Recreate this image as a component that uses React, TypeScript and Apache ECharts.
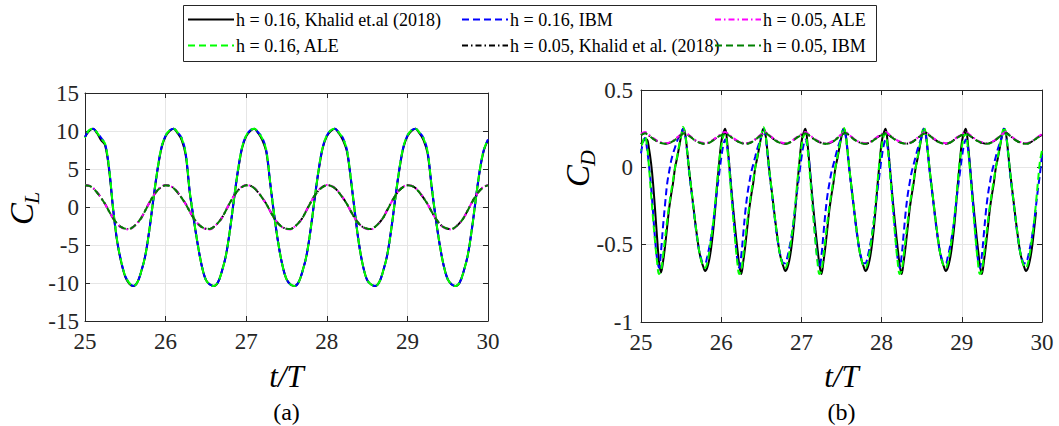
import React, { useEffect, useRef } from "react";
import * as echarts from "echarts";

// ---------- sampling grids (t/T) ----------
const T_CL: number[] = Array.from({ length: 101 }, (_, i) => Math.round((25 + i * 0.05) * 1000) / 1000);
const T_CD16: number[] = Array.from({ length: 201 }, (_, i) => Math.round((25 + i * 0.025) * 1000) / 1000);
const T_CD05: number[] = Array.from({ length: 101 }, (_, i) => Math.round((25 + i * 0.05) * 1000) / 1000);

const X_TICKS = [25, 26, 27, 28, 29, 30];
const CL_TICKS = [-15, -10, -5, 0, 5, 10, 15];
const CD_TICKS = [-1, -0.5, 0, 0.5];

// ---------- C_L values (t = 25.00 ... 30.00, step 0.05) ----------
const CL_KH16 = [
  9.2, 10.0, 10.3, 9.7, 8.8, 8.1, 4.8, -0.4, -4.6, -7.3, -9.2, -10.1, -10.4, -9.9, -8.4, -6.3, -2.9, 1.1, 4.9, 7.8,
  9.3, 10.0, 10.3, 9.7, 8.8, 6.8, 1.9, -1.7, -5.0, -7.8, -9.6, -10.2, -10.4, -9.9, -8.4, -6.3, -2.9, 1.1, 4.9, 7.8,
  9.3, 10.0, 10.3, 9.7, 8.8, 7.2, 2.9, -1.3, -4.9, -7.7, -9.5, -10.2, -10.4, -9.9, -8.4, -6.3, -2.9, 1.1, 4.9, 7.8,
  9.3, 10.0, 10.3, 9.7, 8.8, 7.3, 3.5, -0.9, -4.9, -7.8, -9.6, -10.2, -10.4, -9.9, -8.4, -6.3, -2.9, 1.1, 4.9, 7.8,
  9.3, 10.0, 10.3, 9.7, 8.8, 7.1, 2.7, -1.4, -4.9, -7.7, -9.5, -10.2, -10.4, -9.9, -8.4, -6.3, -2.9, 1.1, 4.9, 7.5,
  8.8,
];
const CL_ALE16 = [
  9.1, 10.1, 10.3, 9.8, 9.0, 8.3, 5.0, -0.3, -4.5, -7.2, -9.1, -10.0, -10.4, -9.9, -8.4, -6.3, -2.9, 1.2, 5.0, 7.9,
  9.4, 10.1, 10.3, 9.8, 9.0, 7.0, 2.0, -1.6, -5.0, -7.8, -9.6, -10.2, -10.4, -9.9, -8.4, -6.3, -2.9, 1.2, 5.0, 7.9,
  9.4, 10.1, 10.3, 9.8, 9.0, 7.4, 3.0, -1.2, -4.9, -7.7, -9.5, -10.2, -10.4, -9.9, -8.4, -6.3, -2.9, 1.2, 5.0, 7.9,
  9.4, 10.1, 10.3, 9.8, 9.0, 7.5, 3.6, -0.8, -4.9, -7.8, -9.6, -10.2, -10.4, -9.9, -8.4, -6.3, -2.9, 1.2, 5.0, 7.9,
  9.4, 10.1, 10.3, 9.8, 9.0, 7.3, 2.8, -1.3, -4.9, -7.7, -9.5, -10.2, -10.4, -9.9, -8.4, -6.3, -2.9, 1.2, 5.0, 7.6,
  8.9,
];
const CL_IBM16 = [
  9.2, 10.1, 10.3, 9.8, 9.1, 8.3, 5.0, -0.3, -4.5, -7.2, -9.1, -10.0, -10.4, -9.9, -8.4, -6.3, -2.9, 1.2, 5.0, 7.9,
  9.4, 10.1, 10.3, 9.8, 9.1, 7.0, 2.0, -1.6, -5.0, -7.8, -9.6, -10.2, -10.4, -9.9, -8.4, -6.3, -2.9, 1.2, 5.0, 7.9,
  9.4, 10.1, 10.3, 9.8, 9.1, 7.4, 3.0, -1.2, -4.9, -7.7, -9.5, -10.2, -10.4, -9.9, -8.4, -6.3, -2.9, 1.2, 5.0, 7.9,
  9.4, 10.1, 10.3, 9.8, 9.1, 7.5, 3.6, -0.8, -4.9, -7.8, -9.6, -10.2, -10.4, -9.9, -8.4, -6.3, -2.9, 1.2, 5.0, 7.9,
  9.4, 10.1, 10.3, 9.8, 9.1, 7.3, 2.8, -1.3, -4.9, -7.7, -9.5, -10.2, -10.4, -9.9, -8.4, -6.3, -2.9, 1.2, 5.0, 7.6,
  8.9,
];
const CL_KH05 = [
  2.85, 2.8, 2.5, 1.9, 1.2, 0.4, -0.6, -1.5, -2.2, -2.65, -2.85, -2.9, -2.6, -2.1, -1.4, -0.4, 0.6, 1.5, 2.2, 2.65,
  2.85, 2.8, 2.5, 1.9, 1.2, 0.4, -0.6, -1.5, -2.2, -2.65, -2.85, -2.9, -2.6, -2.1, -1.4, -0.4, 0.6, 1.5, 2.2, 2.65,
  2.85, 2.8, 2.5, 1.9, 1.2, 0.4, -0.6, -1.5, -2.2, -2.65, -2.85, -2.9, -2.6, -2.1, -1.4, -0.4, 0.6, 1.5, 2.2, 2.65,
  2.85, 2.8, 2.5, 1.9, 1.2, 0.4, -0.6, -1.5, -2.2, -2.65, -2.85, -2.9, -2.6, -2.1, -1.4, -0.4, 0.6, 1.5, 2.2, 2.65,
  2.85, 2.8, 2.5, 1.9, 1.2, 0.4, -0.6, -1.5, -2.2, -2.65, -2.85, -2.9, -2.6, -2.1, -1.4, -0.4, 0.6, 1.5, 2.2, 2.65,
  2.85,
];
const CL_ALE05 = [
  2.9, 2.8, 2.5, 1.95, 1.2, 0.35, -0.6, -1.5, -2.2, -2.7, -2.9, -2.95, -2.6, -2.1, -1.4, -0.4, 0.6, 1.5, 2.25, 2.7,
  2.9, 2.8, 2.5, 1.95, 1.2, 0.35, -0.6, -1.5, -2.2, -2.7, -2.9, -2.95, -2.6, -2.1, -1.4, -0.4, 0.6, 1.5, 2.25, 2.7,
  2.9, 2.8, 2.5, 1.95, 1.2, 0.35, -0.6, -1.5, -2.2, -2.7, -2.9, -2.95, -2.6, -2.1, -1.4, -0.4, 0.6, 1.5, 2.25, 2.7,
  2.9, 2.8, 2.5, 1.95, 1.2, 0.35, -0.6, -1.5, -2.2, -2.7, -2.9, -2.95, -2.6, -2.1, -1.4, -0.4, 0.6, 1.5, 2.25, 2.7,
  2.9, 2.8, 2.5, 1.95, 1.2, 0.35, -0.6, -1.5, -2.2, -2.7, -2.9, -2.95, -2.6, -2.1, -1.4, -0.4, 0.6, 1.5, 2.25, 2.7,
  2.9,
];
const CL_IBM05 = [
  2.85, 2.78, 2.48, 1.9, 1.18, 0.38, -0.6, -1.5, -2.2, -2.65, -2.85, -2.88, -2.6, -2.1, -1.4, -0.42, 0.58, 1.5, 2.2, 2.65,
  2.85, 2.78, 2.48, 1.9, 1.18, 0.38, -0.6, -1.5, -2.2, -2.65, -2.85, -2.88, -2.6, -2.1, -1.4, -0.42, 0.58, 1.5, 2.2, 2.65,
  2.85, 2.78, 2.48, 1.9, 1.18, 0.38, -0.6, -1.5, -2.2, -2.65, -2.85, -2.88, -2.6, -2.1, -1.4, -0.42, 0.58, 1.5, 2.2, 2.65,
  2.85, 2.78, 2.48, 1.9, 1.18, 0.38, -0.6, -1.5, -2.2, -2.65, -2.85, -2.88, -2.6, -2.1, -1.4, -0.42, 0.58, 1.5, 2.2, 2.65,
  2.85, 2.78, 2.48, 1.9, 1.18, 0.38, -0.6, -1.5, -2.2, -2.65, -2.85, -2.88, -2.6, -2.1, -1.4, -0.42, 0.58, 1.5, 2.2, 2.65,
  2.85,
];

// ---------- C_D values, h = 0.16 (t = 25.000 ... 30.000, step 0.025) ----------
const CD_KH16: (number | null)[] = [
  0.15, 0.17, 0.18, 0.18, 0.12, 0.03, -0.10, -0.27, -0.45, -0.61, -0.68, -0.61, -0.51, -0.39, -0.27, -0.18, -0.10, 0.00, 0.06, 0.13,
  0.20, 0.25, 0.22, 0.11, -0.02, -0.13, -0.24, -0.35, -0.45, -0.54, -0.60, -0.64, -0.67, -0.65, -0.60, -0.52, -0.41, -0.27, -0.11, 0.03,
  0.16, 0.22, 0.25, 0.16, 0.02, -0.13, -0.27, -0.40, -0.52, -0.63, -0.69, -0.61, -0.51, -0.39, -0.27, -0.18, -0.10, 0.00, 0.06, 0.13,
  0.20, 0.25, 0.22, 0.11, -0.02, -0.13, -0.24, -0.35, -0.45, -0.54, -0.60, -0.64, -0.67, -0.65, -0.60, -0.52, -0.41, -0.27, -0.11, 0.03,
  0.16, 0.22, 0.25, 0.16, 0.02, -0.13, -0.27, -0.40, -0.52, -0.63, -0.69, -0.61, -0.51, -0.39, -0.27, -0.18, -0.10, 0.00, 0.06, 0.13,
  0.20, 0.25, 0.22, 0.11, -0.02, -0.13, -0.24, -0.35, -0.45, -0.54, -0.60, -0.64, -0.67, -0.65, -0.60, -0.52, -0.41, -0.27, -0.11, 0.03,
  0.16, 0.22, 0.25, 0.16, 0.02, -0.13, -0.27, -0.40, -0.52, -0.63, -0.69, -0.61, -0.51, -0.39, -0.27, -0.18, -0.10, 0.00, 0.06, 0.13,
  0.20, 0.25, 0.22, 0.11, -0.02, -0.13, -0.24, -0.35, -0.45, -0.54, -0.60, -0.64, -0.67, -0.65, -0.60, -0.52, -0.41, -0.27, -0.11, 0.03,
  0.16, 0.22, 0.25, 0.16, 0.02, -0.13, -0.27, -0.40, -0.52, -0.63, -0.69, -0.61, -0.51, -0.39, -0.27, -0.18, -0.10, 0.00, 0.06, 0.13,
  0.20, 0.25, 0.22, 0.11, -0.02, -0.13, -0.24, -0.35, -0.45, -0.54, -0.60, -0.64, -0.67, -0.65, -0.60, -0.52, -0.41, -0.29, null, null,
  null,
];
const CD_ALE16: (number | null)[] = [
  0.11, 0.17, 0.20, 0.14, 0.00, -0.17, -0.33, -0.48, -0.61, -0.69, -0.67, -0.57, -0.46, -0.35, -0.25, -0.16, -0.08, 0.00, 0.07, 0.14,
  0.20, 0.26, 0.22, 0.11, -0.02, -0.13, -0.24, -0.35, -0.45, -0.54, -0.60, -0.64, -0.65, -0.62, -0.55, -0.46, -0.36, -0.23, -0.09, 0.04,
  0.13, 0.20, 0.22, 0.13, -0.01, -0.17, -0.33, -0.48, -0.61, -0.69, -0.67, -0.57, -0.46, -0.35, -0.25, -0.16, -0.08, 0.00, 0.07, 0.14,
  0.20, 0.26, 0.22, 0.11, -0.02, -0.13, -0.24, -0.35, -0.45, -0.54, -0.60, -0.64, -0.65, -0.62, -0.55, -0.46, -0.36, -0.23, -0.09, 0.04,
  0.13, 0.20, 0.22, 0.13, -0.01, -0.17, -0.33, -0.48, -0.61, -0.69, -0.67, -0.57, -0.46, -0.35, -0.25, -0.16, -0.08, 0.00, 0.07, 0.14,
  0.20, 0.26, 0.22, 0.11, -0.02, -0.13, -0.24, -0.35, -0.45, -0.54, -0.60, -0.64, -0.65, -0.62, -0.55, -0.46, -0.36, -0.23, -0.09, 0.04,
  0.13, 0.20, 0.22, 0.13, -0.01, -0.17, -0.33, -0.48, -0.61, -0.69, -0.67, -0.57, -0.46, -0.35, -0.25, -0.16, -0.08, 0.00, 0.07, 0.14,
  0.20, 0.26, 0.22, 0.11, -0.02, -0.13, -0.24, -0.35, -0.45, -0.54, -0.60, -0.64, -0.65, -0.62, -0.55, -0.46, -0.36, -0.23, -0.09, 0.04,
  0.13, 0.20, 0.22, 0.13, -0.01, -0.17, -0.33, -0.48, -0.61, -0.69, -0.67, -0.57, -0.46, -0.35, -0.25, -0.16, -0.08, 0.00, 0.07, 0.14,
  0.20, 0.26, 0.22, 0.11, -0.02, -0.13, -0.24, -0.35, -0.45, -0.54, -0.60, -0.64, -0.65, -0.62, -0.55, -0.46, -0.36, -0.23, -0.09, 0.04,
  0.11,
];
const CD_IBM16: (number | null)[] = [
  0.09, 0.16, 0.19, 0.12, 0.01, -0.12, -0.29, -0.46, -0.59, -0.65, -0.54, -0.38, -0.24, -0.11, -0.03, 0.04, 0.09, 0.13, 0.17, 0.20,
  0.22, 0.25, 0.21, 0.10, -0.03, -0.14, -0.25, -0.36, -0.46, -0.54, -0.59, -0.62, -0.62, -0.58, -0.52, -0.45, -0.36, -0.25, -0.14, -0.04,
  0.06, 0.14, 0.18, 0.13, 0.02, -0.14, -0.30, -0.46, -0.59, -0.65, -0.57, -0.43, -0.29, -0.18, -0.10, -0.03, 0.02, 0.07, 0.12, 0.16,
  0.20, 0.25, 0.21, 0.10, -0.03, -0.14, -0.25, -0.36, -0.46, -0.54, -0.59, -0.62, -0.62, -0.58, -0.52, -0.45, -0.36, -0.25, -0.14, -0.04,
  0.06, 0.14, 0.18, 0.13, 0.02, -0.14, -0.30, -0.46, -0.59, -0.65, -0.57, -0.43, -0.29, -0.18, -0.10, -0.03, 0.02, 0.07, 0.12, 0.16,
  0.20, 0.25, 0.21, 0.10, -0.03, -0.14, -0.25, -0.36, -0.46, -0.54, -0.59, -0.62, -0.62, -0.58, -0.52, -0.45, -0.36, -0.25, -0.14, -0.04,
  0.06, 0.14, 0.18, 0.13, 0.02, -0.14, -0.30, -0.46, -0.59, -0.65, -0.57, -0.43, -0.29, -0.18, -0.10, -0.03, 0.02, 0.07, 0.12, 0.16,
  0.20, 0.25, 0.21, 0.10, -0.03, -0.14, -0.25, -0.36, -0.46, -0.54, -0.59, -0.62, -0.62, -0.58, -0.52, -0.45, -0.36, -0.25, -0.14, -0.04,
  0.06, 0.14, 0.18, 0.13, 0.02, -0.14, -0.30, -0.46, -0.59, -0.65, -0.57, -0.43, -0.29, -0.18, -0.10, -0.03, 0.02, 0.07, 0.12, 0.16,
  0.20, 0.25, 0.21, 0.10, -0.03, -0.14, -0.25, -0.36, -0.46, -0.54, -0.59, -0.62, -0.62, -0.58, -0.52, -0.45, -0.36, -0.25, -0.14, -0.04,
  0.08,
];

// ---------- C_D values, h = 0.05 (t = 25.00 ... 30.00, step 0.05) ----------
const CD_KH05 = [
  0.21, 0.222, 0.205, 0.186, 0.17, 0.158, 0.153, 0.157, 0.17, 0.19, 0.21, 0.224, 0.205, 0.184, 0.167, 0.157, 0.153, 0.16, 0.176, 0.195,
  0.21, 0.222, 0.205, 0.186, 0.17, 0.158, 0.153, 0.157, 0.17, 0.19, 0.21, 0.224, 0.205, 0.184, 0.167, 0.157, 0.153, 0.16, 0.176, 0.195,
  0.21, 0.222, 0.205, 0.186, 0.17, 0.158, 0.153, 0.157, 0.17, 0.19, 0.21, 0.224, 0.205, 0.184, 0.167, 0.157, 0.153, 0.16, 0.176, 0.195,
  0.21, 0.222, 0.205, 0.186, 0.17, 0.158, 0.153, 0.157, 0.17, 0.19, 0.21, 0.224, 0.205, 0.184, 0.167, 0.157, 0.153, 0.16, 0.176, 0.195,
  0.21, 0.222, 0.205, 0.186, 0.17, 0.158, 0.153, 0.157, 0.17, 0.19, 0.21, 0.224, 0.205, 0.184, 0.167, 0.157, 0.153, 0.16, 0.176, 0.195,
  0.21,
];
const CD_ALE05 = [
  0.218, 0.228, 0.21, 0.19, 0.173, 0.162, 0.156, 0.16, 0.172, 0.192, 0.213, 0.228, 0.208, 0.187, 0.17, 0.16, 0.156, 0.163, 0.178, 0.198,
  0.215, 0.228, 0.21, 0.19, 0.173, 0.162, 0.156, 0.16, 0.172, 0.192, 0.213, 0.228, 0.208, 0.187, 0.17, 0.16, 0.156, 0.163, 0.178, 0.198,
  0.215, 0.228, 0.21, 0.19, 0.173, 0.162, 0.156, 0.16, 0.172, 0.192, 0.213, 0.228, 0.208, 0.187, 0.17, 0.16, 0.156, 0.163, 0.178, 0.198,
  0.215, 0.228, 0.21, 0.19, 0.173, 0.162, 0.156, 0.16, 0.172, 0.192, 0.213, 0.228, 0.208, 0.187, 0.17, 0.16, 0.156, 0.163, 0.178, 0.198,
  0.215, 0.228, 0.21, 0.19, 0.173, 0.162, 0.156, 0.16, 0.172, 0.192, 0.213, 0.228, 0.208, 0.187, 0.17, 0.16, 0.156, 0.163, 0.178, 0.198,
  0.215,
];
const CD_IBM05 = [
  0.208, 0.22, 0.204, 0.185, 0.169, 0.157, 0.152, 0.156, 0.169, 0.189, 0.209, 0.222, 0.204, 0.183, 0.166, 0.156, 0.152, 0.159, 0.175, 0.194,
  0.208, 0.22, 0.204, 0.185, 0.169, 0.157, 0.152, 0.156, 0.169, 0.189, 0.209, 0.222, 0.204, 0.183, 0.166, 0.156, 0.152, 0.159, 0.175, 0.194,
  0.208, 0.22, 0.204, 0.185, 0.169, 0.157, 0.152, 0.156, 0.169, 0.189, 0.209, 0.222, 0.204, 0.183, 0.166, 0.156, 0.152, 0.159, 0.175, 0.194,
  0.208, 0.22, 0.204, 0.185, 0.169, 0.157, 0.152, 0.156, 0.169, 0.189, 0.209, 0.222, 0.204, 0.183, 0.166, 0.156, 0.152, 0.159, 0.175, 0.194,
  0.208, 0.22, 0.204, 0.185, 0.169, 0.157, 0.152, 0.156, 0.169, 0.189, 0.209, 0.222, 0.204, 0.183, 0.166, 0.156, 0.152, 0.159, 0.175, 0.194,
  0.208,
];

// ---------- series names ----------
const N_KH16 = "h = 0.16, Khalid et.al (2018)";
const N_IBM16 = "h = 0.16, IBM";
const N_ALE05 = "h = 0.05, ALE";
const N_ALE16 = "h = 0.16, ALE";
const N_KH05 = "h = 0.05, Khalid et al. (2018)";
const N_IBM05 = "h = 0.05, IBM";

// ---------- styles ----------
const SERIF = "Liberation Serif";
const AX = "#262626";
const GRIDC = "#e6e6e6";
const DASH = [7, 4];
const DASHDOT = [6, 3, 1.5, 3];

type Sty = { color: string; dash: number[] | "solid"; offset?: number };
const STY: Record<string, Sty> = {
  [N_KH16]: { color: "#000000", dash: "solid" },
  [N_ALE16]: { color: "#00ff00", dash: DASH, offset: 5.5 },
  [N_IBM16]: { color: "#0000ff", dash: DASH },
  [N_KH05]: { color: "#000000", dash: DASHDOT },
  [N_ALE05]: { color: "#ff00ff", dash: DASHDOT },
  [N_IBM05]: { color: "#008000", dash: DASH },
};

const pairs = (t: number[], y: (number | null)[]) => t.map((x, i) => [x, y[i] === undefined ? null : y[i]]);

function line(name: string, gi: number, t: number[], y: (number | null)[]) {
  const s = STY[name];
  return {
    type: "line",
    name,
    xAxisIndex: gi * 2,
    yAxisIndex: gi * 2,
    data: pairs(t, y),
    symbol: "none",
    showSymbol: false,
    smooth: 0.35,
    connectNulls: false,
    silent: true,
    lineStyle: { color: s.color, width: 2, type: s.dash, dashOffset: s.offset || 0, cap: "butt" },
  };
}

const tickLabel = (margin: number) => ({
  fontFamily: SERIF,
  fontSize: 23,
  color: AX,
  margin,
});

function xAxes(gi: number) {
  const base = {
    gridIndex: gi,
    type: "value",
    min: 25,
    max: 30,
    interval: 1,
    axisLine: { show: true, onZero: false, lineStyle: { color: AX, width: 1 } },
    axisTick: { show: true, inside: true, length: 5, lineStyle: { color: AX } },
  };
  return [
    {
      ...base,
      position: "bottom",
      axisLabel: tickLabel(9),
      splitLine: { show: true, lineStyle: { color: GRIDC, width: 1 } },
    },
    { ...base, position: "top", axisLabel: { show: false }, splitLine: { show: false } },
  ];
}

function yAxes(gi: number, min: number, max: number, interval: number, margin: number) {
  const base = {
    gridIndex: gi,
    type: "value",
    min,
    max,
    interval,
    axisLine: { show: true, onZero: false, lineStyle: { color: AX, width: 1 } },
    axisTick: { show: true, inside: true, length: 5, lineStyle: { color: AX } },
  };
  return [
    {
      ...base,
      position: "left",
      axisLabel: tickLabel(margin),
      splitLine: { show: true, lineStyle: { color: GRIDC, width: 1 } },
    },
    { ...base, position: "right", axisLabel: { show: false }, splitLine: { show: false } },
  ];
}

// legend layout (MATLAB-like, 3 columns x 2 rows)
const LEG_ROWS = [
  [N_KH16, N_IBM16, N_ALE05],
  [N_ALE16, N_KH05, N_IBM05],
];

function legendGraphic() {
  const colX = [188, 462, 715];
  const rowY = [19.5, 45.5];
  const els: any[] = [
    {
      type: "rect",
      shape: { x: 183.5, y: 5.5, width: 693, height: 56 },
      style: { fill: "#ffffff", stroke: AX, lineWidth: 1 },
      z: 10,
    },
  ];
  LEG_ROWS.forEach((row, r) => {
    row.forEach((name, c) => {
      const s = STY[name];
      const y = rowY[r];
      els.push({
        type: "line",
        shape: { x1: colX[c], y1: y, x2: colX[c] + 46, y2: y },
        style: { stroke: s.color, lineWidth: 2, lineDash: s.dash === "solid" ? null : s.dash },
        z: 11,
      });
      els.push({
        type: "text",
        x: colX[c] + 48,
        y,
        style: { text: name, fontFamily: SERIF, fontSize: 18, fill: "#000", align: "left", verticalAlign: "middle" },
        z: 11,
      });
    });
  });
  return els;
}

function axisTitles() {
  const els: any[] = [];
  const centers = [286.5, 841.5];
  centers.forEach((cx, i) => {
    els.push({
      type: "text",
      x: cx,
      y: 376,
      style: {
        text: "t/T",
        fontFamily: SERIF,
        fontStyle: "italic",
        fontSize: 31,
        fill: "#000",
        align: "center",
        verticalAlign: "middle",
      },
    });
    els.push({
      type: "text",
      x: cx,
      y: 412,
      style: {
        text: i === 0 ? "(a)" : "(b)",
        fontFamily: SERIF,
        fontSize: 24,
        fill: "#000",
        align: "center",
        verticalAlign: "middle",
      },
    });
  });
  const ylab = (x: number, y: number, sub: string) => ({
    type: "group",
    x,
    y,
    rotation: Math.PI / 2,
    children: [
      {
        type: "text",
        x: 3,
        y: 0,
        style: {
          text: "C",
          fontFamily: SERIF,
          fontStyle: "italic",
          fontSize: 33,
          fill: "#000",
          align: "right",
          verticalAlign: "middle",
        },
      },
      {
        type: "text",
        x: 2,
        y: 9,
        style: {
          text: sub,
          fontFamily: SERIF,
          fontStyle: "italic",
          fontSize: 22,
          fill: "#000",
          align: "left",
          verticalAlign: "middle",
        },
      },
    ],
  });
  els.push(ylab(22, 206, "L"));
  els.push(ylab(578, 168, "D"));
  return els;
}

const option: any = {
  animation: false,
  backgroundColor: "#ffffff",
  textStyle: { fontFamily: SERIF },
  grid: [
    { left: 85, top: 93, width: 403, height: 228, containLabel: false },
    { left: 641, top: 90, width: 401, height: 232, containLabel: false },
  ],
  xAxis: [...xAxes(0), ...xAxes(1)],
  yAxis: [...yAxes(0, -15, 15, 5, 6), ...yAxes(1, -1, 0.5, 0.5, 8)],
  series: [
    line(N_KH16, 0, T_CL, CL_KH16),
    line(N_IBM16, 0, T_CL, CL_IBM16),
    line(N_ALE16, 0, T_CL, CL_ALE16),
    line(N_KH05, 0, T_CL, CL_KH05),
    line(N_ALE05, 0, T_CL, CL_ALE05),
    line(N_IBM05, 0, T_CL, CL_IBM05),
    line(N_KH16, 1, T_CD16, CD_KH16),
    line(N_IBM16, 1, T_CD16, CD_IBM16),
    line(N_ALE16, 1, T_CD16, CD_ALE16),
    line(N_KH05, 1, T_CD05, CD_KH05),
    line(N_ALE05, 1, T_CD05, CD_ALE05),
    line(N_IBM05, 1, T_CD05, CD_IBM05),
  ],
  graphic: [...legendGraphic(), ...axisTitles()],
};

export default function App() {
  const ref = useRef<HTMLDivElement>(null);
  useEffect(() => {
    if (!ref.current) return;
    const chart = echarts.init(ref.current, undefined, { renderer: "svg" });
    chart.setOption(option);
    return () => chart.dispose();
  }, []);
  return (
    <div
      ref={ref}
      style={{ position: "fixed", left: 0, top: 0, width: 1059, height: 426, background: "#ffffff" }}
    />
  );
}
